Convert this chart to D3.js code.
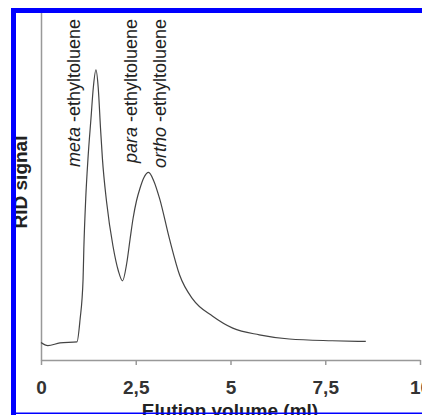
<!DOCTYPE html>
<html>
<head>
<meta charset="utf-8">
<script src="https://cdn.jsdelivr.net/npm/d3@7"></script>
<style>
  body { margin: 0; background: #fff; }
  svg { display: block; }
</style>
</head>
<body>
<svg id="chart" width="422" height="415"></svg>
<script>
// chromatogram: elution volume (ml) vs RID signal (arbitrary units)
var volume = [0, 0.18, 0.5, 0.95, 1.03, 1.11, 1.13, 1.18, 1.24, 1.32, 1.38, 1.45, 1.51, 1.57, 1.62, 1.73, 1.90, 2.04, 2.15, 2.26, 2.35, 2.43, 2.52, 2.61, 2.71, 2.84, 2.97, 3.13, 3.39, 3.66, 4.01, 4.53, 5.06, 5.76, 6.55, 7.68, 8.57];
var signal = [5.0, 4.1, 4.9, 5.2, 11.5, 23.1, 31.7, 46.1, 57.6, 69.2, 77.8, 82.9, 77.8, 66.3, 57.6, 45.2, 32.5, 25.5, 22.6, 27.5, 34.5, 40.5, 45.5, 49.0, 52.0, 53.6, 51.3, 46.1, 34.6, 24.2, 17.3, 12.5, 9.1, 7.2, 6.0, 5.5, 5.3];

var xTicks = [0, 2.5, 5, 7.5, 10];
var xTickLabels = ["0", "2,5", "5", "7,5", "10"];

var peakNames = ["meta", "para", "ortho"];
var peakVolume = [1.03, 2.53, 3.29];

var svg = d3.select("#chart");

var x = d3.scaleLinear().domain([0, 10]).range([41, 420]);
var y = d3.scaleLinear().domain([0, 100]).range([360, 10]);

// x axis
var xAxis = svg.append("g")
    .attr("transform", "translate(0,360)")
    .call(d3.axisBottom(x).tickValues(xTicks).tickSizeInner(5).tickSizeOuter(0)
        .tickFormat(function(d, i) { return xTickLabels[i]; }));
xAxis.select(".domain").style("stroke", "#999").style("stroke-width", 1.5);
xAxis.selectAll(".tick line").style("stroke", "#999").style("stroke-width", 1.5);
xAxis.selectAll(".tick text")
    .attr("y", 34)
    .attr("dy", 0)
    .style("font-family", "Liberation Sans, Arial, sans-serif")
    .style("font-weight", "bold")
    .style("font-size", "19px")
    .style("fill", "#333");

// y axis, no ticks
var yAxis = svg.append("g")
    .attr("transform", "translate(41,0)")
    .call(d3.axisLeft(y).tickValues([]).tickSizeOuter(0));
yAxis.select(".domain").style("stroke", "#999").style("stroke-width", 1.5);

// curve
var line = d3.line()
    .x(function(d) { return x(d[0]); })
    .y(function(d) { return y(d[1]); })
    .curve(d3.curveMonotoneX);

svg.append("path")
    .datum(d3.zip(volume, signal))
    .attr("d", line)
    .style("fill", "none")
    .style("stroke", "#444")
    .style("stroke-width", 1.2);

// peak names, vertical
peakNames.forEach(function(n, i) {
  var t = svg.append("text")
      .attr("transform", "translate(" + x(peakVolume[i]) + ",19) rotate(-90)")
      .attr("text-anchor", "end")
      .style("font-family", "Liberation Sans, Arial, sans-serif")
      .style("font-size", "18px")
      .style("fill", "#222");
  t.append("tspan").style("font-style", "italic").text(n);
  t.append("tspan").text(" -ethyltoluene");
});

// axis titles
svg.append("text")
    .attr("transform", "translate(27,182) rotate(-90)")
    .attr("text-anchor", "middle")
    .style("font-family", "Liberation Sans, Arial, sans-serif")
    .style("font-weight", "bold")
    .style("font-size", "19px")
    .style("fill", "#222")
    .text("RID signal");

svg.append("text")
    .attr("x", 230).attr("y", 417)
    .attr("text-anchor", "middle")
    .style("font-family", "Liberation Sans, Arial, sans-serif")
    .style("font-weight", "bold")
    .style("font-size", "19px")
    .style("fill", "#222")
    .text("Elution volume (ml)");

// blue frame
svg.append("rect").attr("x", 11).attr("y", 8).attr("width", 411).attr("height", 5).style("fill", "#0000ff");
svg.append("rect").attr("x", 11).attr("y", 8).attr("width", 5).attr("height", 407).style("fill", "#0000ff");
svg.append("rect").attr("x", 11).attr("y", 412.5).attr("width", 411).attr("height", 1.5).style("fill", "#0000ff");
</script>
</body>
</html>
